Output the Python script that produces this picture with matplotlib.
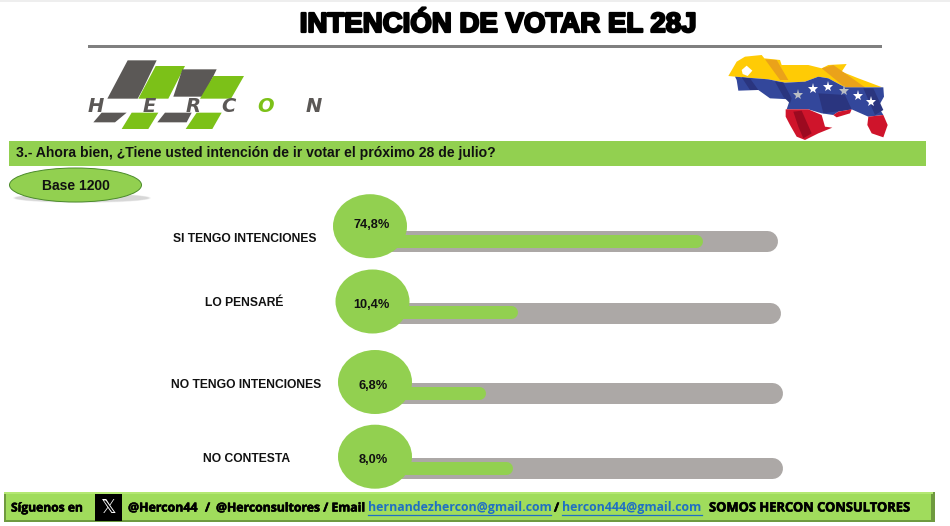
import matplotlib
matplotlib.use('Agg')
import matplotlib.pyplot as plt
from matplotlib.patches import Polygon, Ellipse, Rectangle
import matplotlib.patheffects as pe

# Values
categories = ['SI TENGO INTENCIONES', 'LO PENSARÉ', 'NO TENGO INTENCIONES', 'NO CONTESTA']
value_labels = ['74,8%', '10,4%', '6,8%', '8,0%']
# The infographic is not to scale, so this is the fill as drawn, in % of its track
fill_drawn = [82.2, 35.0, 26.1, 32.9]
track_full = [100, 100, 100, 100]

title = 'INTENCIÓN DE VOTAR EL 28J'
question = '3.- Ahora bien, ¿Tiene usted intención de ir votar el próximo 28 de julio?'
base_label = 'Base 1200'

GREEN = '#92d050'
TRACK = '#aca8a6'
W, H = 950, 526

fig = plt.figure(figsize=(W / 100, H / 100), dpi=100, facecolor='white')

# Background layer in pixel coordinates
bg = fig.add_axes([0, 0, 1, 1], zorder=1)
bg.set_xlim(0, W)
bg.set_ylim(H, 0)
bg.axis('off')

# Top overlay for the circles
top = fig.add_axes([0, 0, 1, 1], zorder=3)
top.set_xlim(0, W)
top.set_ylim(H, 0)
top.axis('off')
top.patch.set_alpha(0)

# faint edge at the top of the page
bg.add_patch(Rectangle((0, 0), W, 2, color='#eeeeee', lw=0))

# Title and rule
bg.text(498, 25, title, ha='center', va='center', fontsize=19.9, color='black',
        family='Liberation Sans', weight='bold',
        path_effects=[pe.withStroke(linewidth=1.6, foreground='black')])
bg.add_patch(Rectangle((88, 45), 794, 3, color='#808080', lw=0))


def z1(pts):
    return [(x / 3, y / 3) for x, y in pts]


def z2(pts):
    return [(475 + x / 3, y / 3) for x, y in pts]


# Logo
LOGO_DARK = '#5b5856'
LOGO_GREEN = '#7cc118'
for pts, c in [
    ([(322, 296), (383, 181), (470, 181), (428, 268), (413, 296)], LOGO_DARK),
    ([(467, 198), (555, 198), (505, 296), (415, 296)], LOGO_GREEN),
    ([(547, 208), (650, 208), (610, 290), (520, 290)], LOGO_DARK),
    ([(640, 228), (732, 228), (693, 296), (600, 296)], LOGO_GREEN),
    ([(305, 338), (380, 338), (345, 367), (280, 367)], LOGO_DARK),
    ([(395, 338), (475, 338), (445, 387), (365, 387)], LOGO_GREEN),
    ([(495, 338), (575, 338), (560, 367), (472, 367)], LOGO_DARK),
    ([(590, 338), (665, 338), (637, 387), (557, 387)], LOGO_GREEN),
]:
    bg.add_patch(Polygon(z1(pts), closed=True, color=c, lw=0))
for ch, x, c in zip('HERCON', [96, 149, 193, 228, 266, 314],
                    [LOGO_DARK] * 4 + [LOGO_GREEN, LOGO_DARK]):
    bg.text(x, 106.5, ch, ha='center', va='center', fontsize=14, style='italic', color=c,
            family='DejaVu Sans', weight='bold')

# Flag map
flag_parts = [
    ('#ffcb05', [(760, 228), (785, 185), (810, 170), (860, 165), (868, 175), (915, 180), (920, 195),
                 (1000, 195), (1040, 205), (1060, 195), (1115, 192), (1100, 215), (1150, 235),
                 (1222, 262), (1110, 262), (1060, 235), (1030, 230), (990, 245), (930, 248),
                 (880, 238), (780, 230)]),
    ('#eaa21a', [(870, 178), (905, 180), (940, 240), (915, 240)]),
    ('#eaa21a', [(1040, 205), (1075, 195), (1170, 262), (1110, 262)]),
    ('#33479b', [(780, 230), (880, 238), (930, 248), (990, 245), (1030, 230), (1060, 235), (1110, 262),
                 (1225, 262), (1227, 290), (1210, 320), (1225, 345), (1180, 350), (1130, 328),
                 (1090, 335), (1075, 345), (1040, 340), (1000, 328), (935, 328), (945, 298),
                 (885, 295), (850, 270), (790, 272), (785, 240)]),
    ('#2a357f', [(800, 232), (825, 235), (850, 270), (825, 270)]),
    ('#2a357f', [(900, 245), (925, 248), (950, 295), (945, 310), (925, 290)]),
    ('#2a357f', [(1030, 280), (1110, 285), (1130, 328), (1045, 340)]),
    ('#2a357f', [(1165, 265), (1195, 265), (1225, 330), (1200, 345)]),
    ('#cf142b', [(932, 328), (1000, 328), (1040, 345), (1050, 380), (1072, 383), (1030, 400),
                 (990, 420), (965, 410), (945, 375), (932, 350)]),
    ('#9c0a20', [(955, 335), (980, 332), (1010, 400), (985, 415), (970, 380)]),
    ('#cf142b', [(1180, 350), (1225, 345), (1238, 375), (1225, 412), (1190, 400), (1177, 375)]),
    ('#cf142b', [(1075, 345), (1090, 335), (1130, 328), (1125, 340), (1085, 352)]),
    ('white', [(800, 210), (815, 197), (832, 212), (818, 228), (803, 222)]),
]
for c, pts in flag_parts:
    bg.add_patch(Polygon(z2(pts), closed=True, color=c, lw=0))
for (x, y), c in zip([(970, 284), (1015, 268), (1060, 262), (1107, 272), (1150, 287), (1188, 305)],
                     ['#b9bdc4', 'white', 'white', '#b9bdc4', 'white', 'white']):
    bg.plot(475 + x / 3, y / 3, marker='*', ms=8, color=c, mew=0)

# Question band and base pill
bg.add_patch(Rectangle((9, 141), 917, 25, color=GREEN, lw=0))
bg.text(16, 153.5, question, ha='left', va='center', fontsize=10.05, weight='bold',
        family='Liberation Sans', color='#111111')
for dx, a in [(8, .08), (6, .12), (4, .16)]:
    bg.add_patch(Ellipse((82, 198), 130 + dx, 6 + dx / 2, color='#888888', alpha=a, lw=0))
bg.add_patch(Ellipse((75.5, 185), 132, 34, facecolor=GREEN, edgecolor='#4a8a2a', lw=0.7))
bg.text(75.5, 186, base_label, ha='center', va='center', fontsize=10, weight='bold',
        family='Liberation Sans', color='#111111')

# Rows, pixel layout: circle centre x, circle centre y, track centre y, fill centre y, label x/y, value x/y
row_cx = [370, 372.5, 375, 375]
row_cy = [226.2, 301.5, 382, 456.7]
row_track_y = [241.2, 312.8, 393.3, 467.6]
row_fill_dy = [-0.4, -0.6, -0.1, -0.1]
label_xy = [(244.5, 238.5), (244.5, 303.5), (246.5, 384.5), (247, 459.5)]
value_xy = [(371.7, 225), (371, 305), (373, 386), (373, 460)]
TRACK_LEN = 397
LW_TRACK = 21 * 0.72
LW_FILL = 13 * 0.72

for i, cat in enumerate(categories):
    ax = fig.add_axes([row_cx[i] / W, 1 - (row_track_y[i] + 15) / H, TRACK_LEN / W, 30 / H], zorder=2)
    ax.set_xlim(0, 100)
    ax.set_ylim(-15, 15)
    ax.axis('off')
    ax.patch.set_alpha(0)
    ax.plot([0, track_full[i]], [0, 0], color=TRACK, lw=LW_TRACK, solid_capstyle='round', clip_on=False)
    ax.plot([0, fill_drawn[i]], [-row_fill_dy[i]] * 2, color=GREEN, lw=LW_FILL, solid_capstyle='round', clip_on=False)

    top.add_patch(Ellipse((row_cx[i], row_cy[i]), 74, 64, color=GREEN, lw=0))
    top.text(value_xy[i][0], value_xy[i][1], value_labels[i], ha='center', va='center', fontsize=9.2,
             weight='bold', family='Liberation Sans', color='#111111')
    bg.text(label_xy[i][0], label_xy[i][1], cat, ha='center', va='center', fontsize=8.7,
            weight='bold', family='Liberation Sans', color='#111111')

# Footer
bg.add_patch(Rectangle((4, 492), 931, 30, color='#6f9a3f', lw=0))
bg.add_patch(Rectangle((4, 492), 929, 2, color='#b4e873', lw=0))
bg.add_patch(Rectangle((6, 494), 925, 26, color='#a0dc5c', lw=0))
bg.add_patch(Rectangle((95, 494), 27, 27, color='black', lw=0))
bg.text(108.5, 507.5, '𝕏', ha='center', va='center', fontsize=14, color='white', family='DejaVu Sans')

bold_edge = [pe.withStroke(linewidth=0.4, foreground='black')]
footer_black = [(11, 'Síguenos en', 8.7), (128, '@Hercon44', 8.9), (205, '/', 8.9),
                (216, '@Herconsultores / Email', 8.8), (554, '/', 8.9),
                (709, 'SOMOS HERCON CONSULTORES', 9.3)]
footer_links = [(368, 551, 'hernandezhercon@gmail.com'), (562, 702, 'hercon444@gmail.com')]
for x, s, size in footer_black:
    bg.text(x, 508, s, ha='left', va='center', fontsize=size, weight='bold', family='Open Sans',
            color='black', path_effects=bold_edge)
for x0, x1, s in footer_links:
    bg.text(x0, 508, s, ha='left', va='center', fontsize=8.95, weight='bold', family='Open Sans', color='#1f6fc4')
    bg.plot([x0, x1], [514.5, 514.5], color='#1f6fc4', lw=0.9)

fig.savefig('out.png', dpi=100)
